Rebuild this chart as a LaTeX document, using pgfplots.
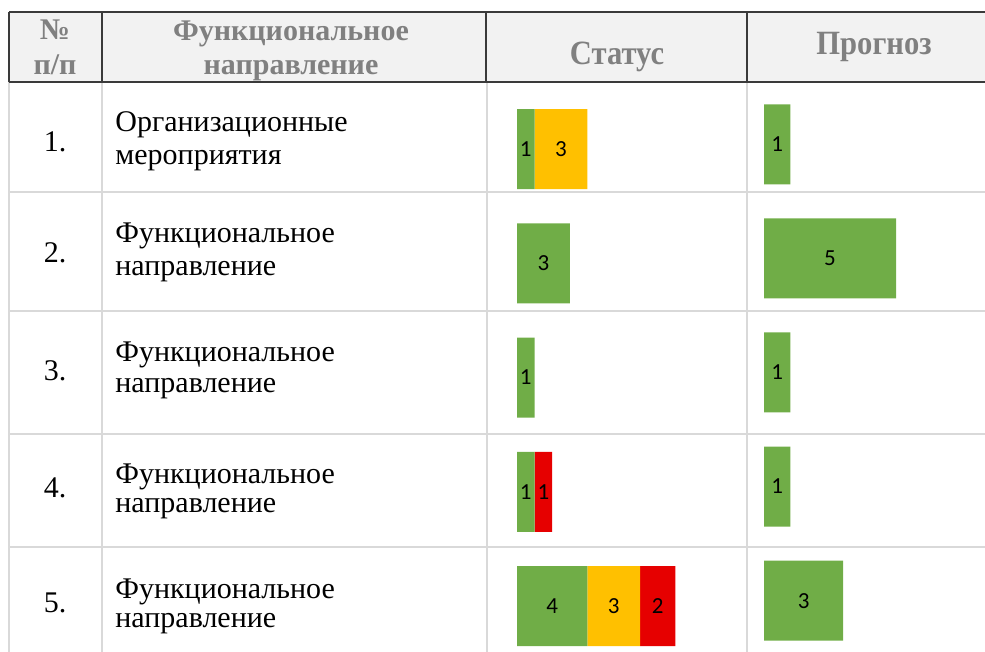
\documentclass[border=0pt]{standalone}
\usepackage{pgfplots}
\pgfplotsset{compat=1.18}
\usepackage{pgfplotstable}
\usepackage{fontspec}
\setmainfont{Liberation Serif}
\newfontfamily\headfont[FakeStretch=0.9]{Liberation Serif}
\newfontfamily\labelfont{Carlito}

\definecolor{barGreen}{HTML}{70AD47}
\definecolor{barYellow}{HTML}{FFC000}
\definecolor{barRed}{HTML}{E60000}
\definecolor{headBg}{HTML}{F2F2F2}
\definecolor{headText}{HTML}{808080}
\definecolor{headRule}{HTML}{3A3A3A}
\definecolor{bodyRule}{HTML}{D9D9D9}

% status counts per row: green / yellow / red
\pgfplotstableread{
row green yellow red
1 1 3 0
2 3 0 0
3 1 0 0
4 1 0 1
5 4 3 2
}\statusdata

% forecast per row
\pgfplotstableread{
row green
1 1
2 5
3 1
4 1
5 3
}\forecastdata

\pgfplotsset{
  cellbars/.style={
    xbar stacked, bar width=40pt,
    y dir=reverse, ymin=0.5, ymax=5.5, xmin=0,
    enlargelimits=false, hide axis,
    point meta=explicit,
    /pgf/number format/assume math mode=true,
    nodes near coords={\labelfont\pgfmathfloatifflags{\pgfplotspointmeta}{0}{}{\pgfmathprintnumber{\pgfplotspointmeta}}},
    every node near coord/.append style={anchor=center, text=black,
      font=\labelfont\fontsize{11.5}{13}\selectfont},
  },
  seg/.style={draw=none, fill=#1},
}

\begin{document}
\begin{tikzpicture}
\begin{scope}[x=0.5pt,y=-0.5pt]
\useasboundingbox (0,0) rectangle (985,652);
% header
\fill[headBg] (9,12) rectangle (985,82);
\draw[bodyRule, line width=0.75pt]
  (9,82) -- (9,652) (102,82) -- (102,652) (487,82) -- (487,652) (747,82) -- (747,652)
  (9,192) -- (985,192) (9,311) -- (985,311) (9,434) -- (985,434) (9,547) -- (985,547);
\draw[headRule, line width=1pt]
  (9,12) -- (985,12) (9,82) -- (985,82)
  (9,12) -- (9,82) (102,12) -- (102,82) (486,12) -- (486,82) (747,12) -- (747,82);
\begin{scope}[every node/.style={anchor=base, text=headText, inner sep=0pt}]
\node[font=\bfseries\fontsize{15}{17}\selectfont] at (55,40) {№};
\node[font=\bfseries\fontsize{15}{17}\selectfont] at (55,75) {п/п};
\node[font=\bfseries\fontsize{15}{17}\selectfont] at (291,41) {Функциональное};
\node[font=\bfseries\fontsize{15}{17}\selectfont] at (291,75) {направление};
\node[font=\headfont\bfseries\fontsize{17}{20}\selectfont] at (617,65) {Статус};
\node[font=\headfont\bfseries\fontsize{17}{20}\selectfont] at (874,55) {Прогноз};
\end{scope}
% body
\begin{scope}[every node/.style={text=black, inner sep=0pt, font=\fontsize{15}{17}\selectfont}]
\node[anchor=base] at (55,152) {1.};
\node[anchor=base] at (55,263) {2.};
\node[anchor=base] at (55,380) {3.};
\node[anchor=base] at (55,497) {4.};
\node[anchor=base] at (55,612) {5.};
\node[anchor=base west] at (115,132) {Организационные};
\node[anchor=base west] at (115,165) {мероприятия};
\node[anchor=base west] at (115,243) {Функциональное};
\node[anchor=base west] at (115,276) {направление};
\node[anchor=base west] at (115,361) {Функциональное};
\node[anchor=base west] at (115,392) {направление};
\node[anchor=base west] at (115,483) {Функциональное};
\node[anchor=base west] at (115,512) {направление};
\node[anchor=base west] at (115,598) {Функциональное};
\node[anchor=base west] at (115,627) {направление};
\end{scope}
\end{scope}

% status bars
\begin{axis}[cellbars, at={(258.5pt,-45.94pt)}, anchor=north west,
  x=8.8pt, y=57.125pt, xmax=10]
\addplot[seg=barGreen] table[x=green, y=row, meta=green] {\statusdata};
\addplot[seg=barYellow] table[x=yellow, y=row, meta=yellow] {\statusdata};
\addplot[seg=barRed] table[x=red, y=row, meta=red] {\statusdata};
\end{axis}

% forecast bars
\begin{axis}[cellbars, at={(382pt,-43.6pt)}, anchor=north west,
  x=13.2pt, y=57.05pt, xmax=8]
\addplot[seg=barGreen] table[x=green, y=row, meta=green] {\forecastdata};
\end{axis}
\end{tikzpicture}
\end{document}
